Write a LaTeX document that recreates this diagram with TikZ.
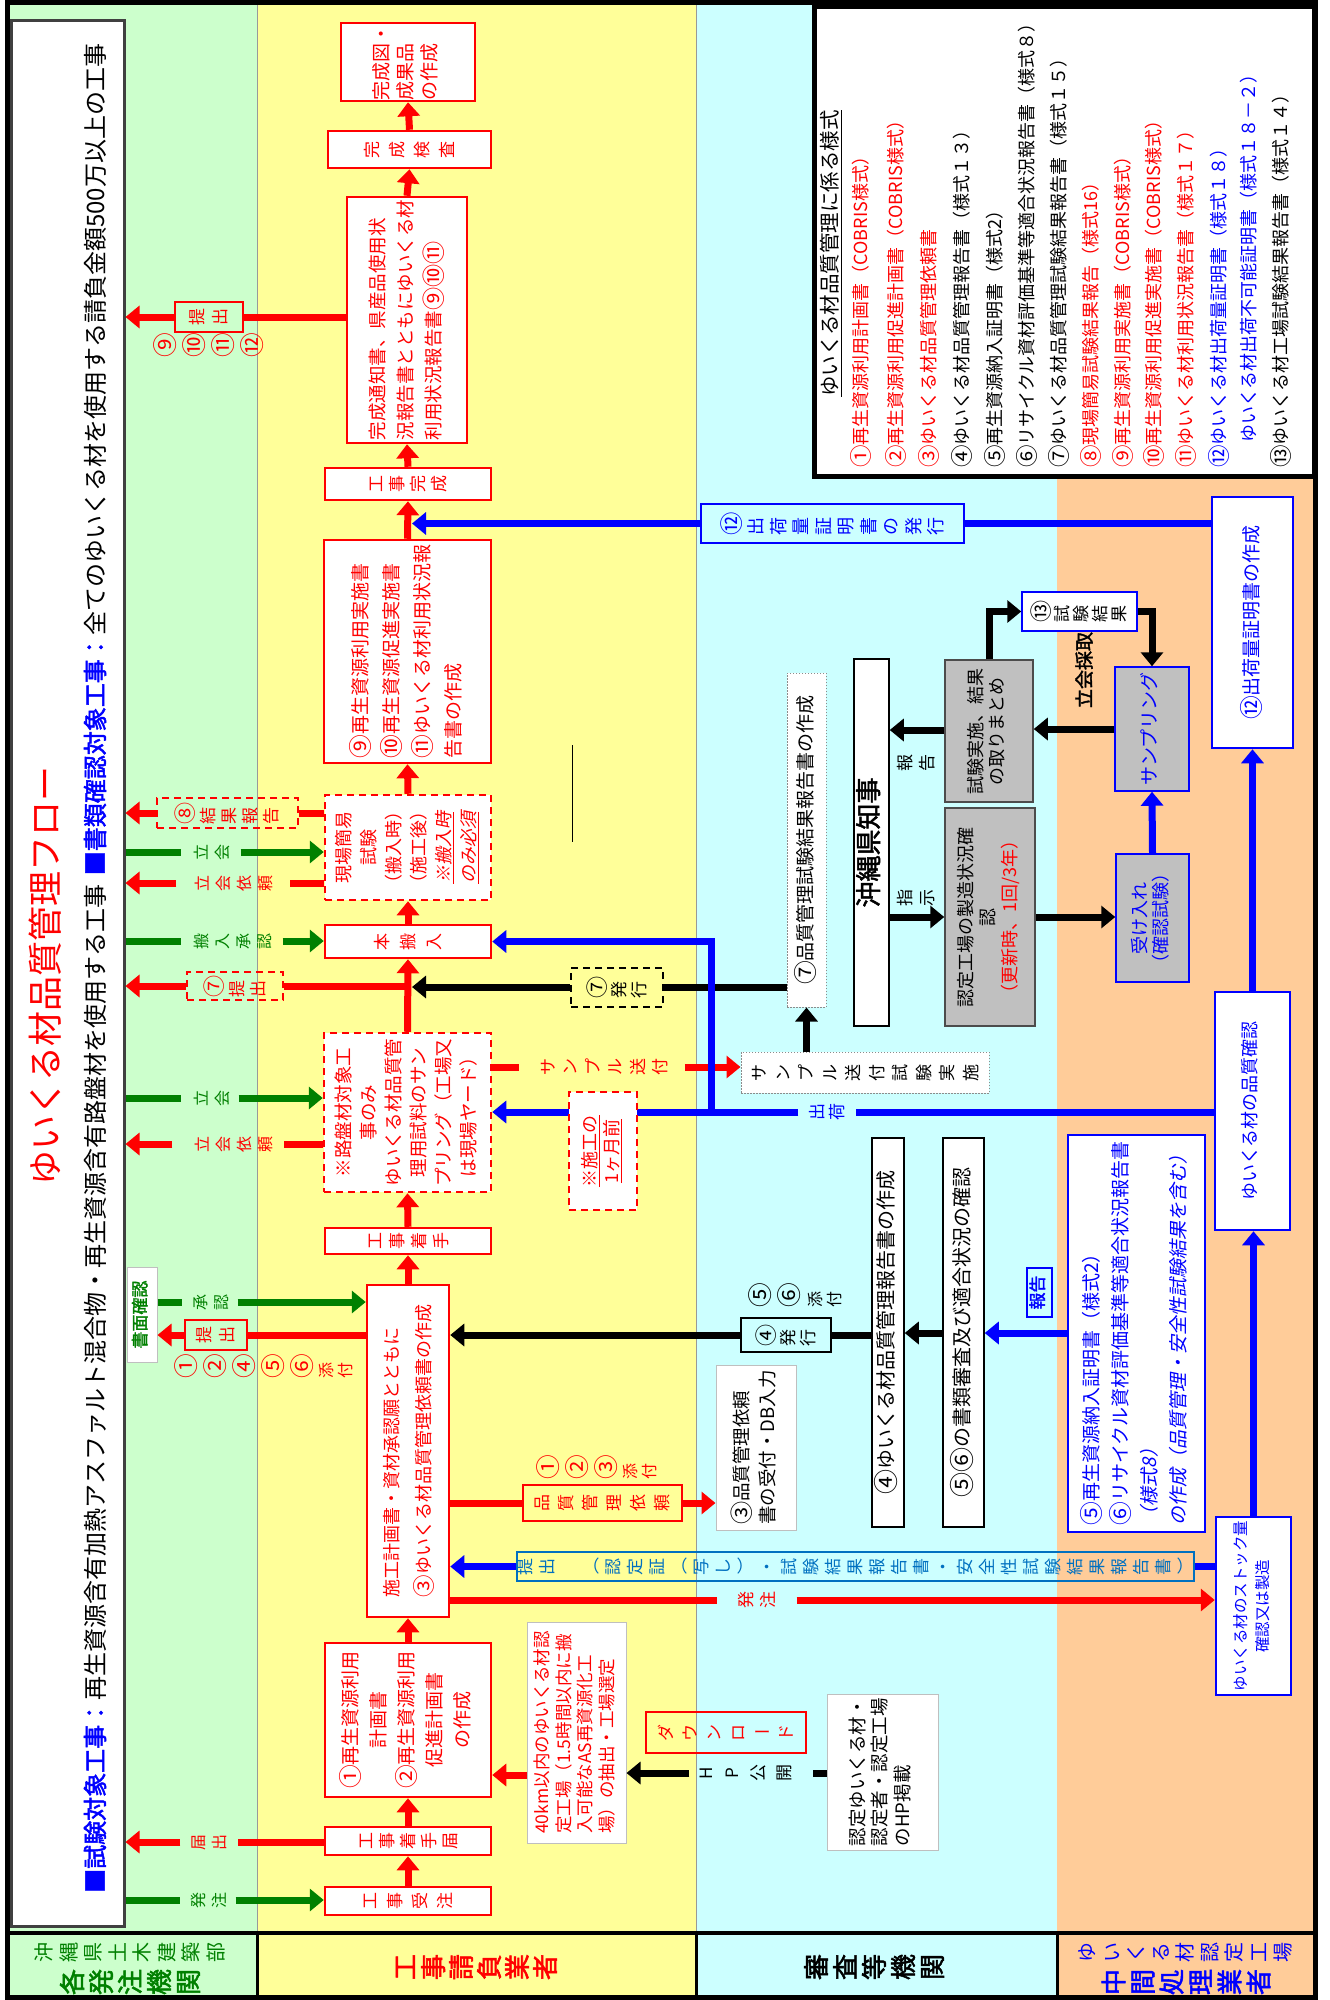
\documentclass[tikz,border=0pt]{standalone}
\usepackage{fontspec}
\setmainfont{Noto Sans CJK JP}[AutoFakeBold=2]
\newfontfamily\slt{Noto Sans CJK JP}[FakeSlant=0.2]
\usepackage{graphicx}
\usetikzlibrary{arrows.meta}
\definecolor{lgreen}{RGB}{204,255,204}
\definecolor{lyellow}{RGB}{255,255,153}
\definecolor{lcyan}{RGB}{204,255,255}
\definecolor{lorange}{RGB}{255,204,153}
\definecolor{dgreen}{RGB}{0,128,0}
\definecolor{tblue}{RGB}{0,112,192}
\definecolor{gbox}{RGB}{192,192,192}
\newcommand\FS[2]{\fontsize{#1}{#2}\selectfont}
\newcommand\RA[2][c]{\rotatebox{90}{\begin{tabular}{@{}#1@{}}#2\end{tabular}}}
\newcommand\CN[1]{\raisebox{-0.1em}{\scalebox{1.25}{#1}}}
\ExplSyntaxOn
\NewDocumentCommand\VT{O{0pt}m}
 {
  \tl_map_inline:nn {#2}
   {
    \tl_if_in:nnTF {ー（）()} {##1}
     { \makebox[1em]{\raisebox{0.12em}{##1}} }
     {
      \tl_if_in:nnTF {①②③④⑤⑥⑦⑧⑨⑩⑪⑫⑬} {##1}
       { \rotatebox{90}{\makebox[1.3em]{\rule[-0.15em]{0pt}{1.15em}\raisebox{-0.1em}{\scalebox{1.3}{##1}}}} }
       { \rotatebox{90}{\makebox[1em]{\rule[-0.12em]{0pt}{1em}##1}} }
     }
    \hspace{#1}
   }
  \unskip
 }
\ExplSyntaxOff
\tikzset{
 box/.style args={#1/#2/#3/#4}{at={({(#1+#3)/2},{(#2+#4)/2})}, minimum width={#3pt-#1pt}, minimum height={#4pt-#2pt}},
 bx/.style={draw, inner sep=0pt, fill=white},
 rb/.style={bx, draw=red, line width=2.5pt, text=red},
 rd/.style={rb, dash pattern=on 7pt off 5pt},
 bb/.style={bx, draw=blue, line width=2.5pt, text=blue},
 kb/.style={bx, draw=black, line width=1.5pt, text=black},
 gyb/.style={bx, draw=black!25, line width=1pt, text=black},
 dotb/.style={bx, draw=black!45, line width=1pt, dash pattern=on 1.5pt off 1.5pt},
 grb/.style={bx, fill=gbox, draw=black!70, line width=1.5pt},
 lab/.style={inner sep=0pt},
 ra/.style={draw=red, line width=7pt, -{Triangle[width=22pt,length=14pt]}},
 rl/.style={draw=red, line width=7pt},
 ga/.style={draw=dgreen, line width=7pt, -{Triangle[width=22pt,length=14pt]}},
 gl/.style={draw=dgreen, line width=7pt},
 ba/.style={draw=blue, line width=7pt, -{Triangle[width=22pt,length=14pt]}},
 bl/.style={draw=blue, line width=7pt},
 ka/.style={draw=black, line width=7pt, -{Triangle[width=22pt,length=14pt]}},
 kl/.style={draw=black, line width=7pt},
}
\begin{document}
\begin{tikzpicture}[x=1pt,y=-1pt]
\useasboundingbox (0,0) rectangle (1330,2000);
% lanes
\fill[lgreen] (8,5) rectangle (257,1997);
\fill[lyellow] (257,5) rectangle (696,1997);
\fill[lcyan] (696,5) rectangle (1057,1997);
\fill[lorange] (1057,5) rectangle (1315,1997);
\draw[black!40, line width=0.8pt] (257,5) -- (257,1933);
\draw[black!40, line width=0.8pt] (696,5) -- (696,1933);
\draw[line width=4pt] (8,1933) -- (1315,1933);
\foreach \xx in {257,696,1057} \draw[line width=3pt] (\xx,1933) -- (\xx,1997);
\draw[line width=5pt] (7.5,2.5) rectangle (1315.5,1997.5);

% title box
\node[draw=black!75, line width=3pt, fill=white, inner sep=0pt, box=11/20/124/1926] (tb) {};
\node[lab, rotate=90, anchor=west, text=red, font=\FS{35}{40}] (ttl) at (45,1186) {ゆいくる材品質管理フロー};
\node[lab, rotate=90, anchor=west, font=\FS{24}{28}] (sub) at (95,1893) {\textcolor{blue}{\bfseries ■試験対象工事：}再生資源含有加熱アスファルト混合物・再生資源含有路盤材を使用する工事\hspace{0.4em}\textcolor{blue}{\bfseries ■書類確認対象工事：}全てのゆいくる材を使用する請負金額500万以上の工事};

% legend
\node[draw=black, line width=5pt, fill=white, inner sep=0pt, box=814/6/1314/476] (lg) {};
\node[lab, rotate=90, anchor=west, font=\FS{20.5}{24}] (lg0) at (831,397) {\underline{ゆいくる材品質管理に係る様式}};
\begin{scope}[every node/.style={lab, rotate=90, anchor=west, font=\FS{18}{20}}]
\node[text=red] (lg1) at (861,468) {\CN{①}再生資源利用計画書（COBRIS様式）};
\node[text=red] (lg2) at (896,468) {\CN{②}再生資源利用促進計画書（COBRIS様式）};
\node[text=red] (lg3) at (929,468) {\CN{③}ゆいくる材品質管理依頼書};
\node (lg4) at (962,468) {\CN{④}ゆいくる材品質管理報告書（様式１３）};
\node (lg5) at (995,468) {\CN{⑤}再生資源納入証明書（様式2）};
\node (lg6) at (1027,468) {\CN{⑥}リサイクル資材評価基準等適合状況報告書（様式８）};
\node (lg7) at (1059,468) {\CN{⑦}ゆいくる材品質管理試験結果報告書（様式１５）};
\node[text=red] (lg8) at (1091,468) {\CN{⑧}現場簡易試験結果報告（様式16）};
\node[text=red] (lg9) at (1123,468) {\CN{⑨}再生資源利用実施書（COBRIS様式）};
\node[text=red] (lg10) at (1154,468) {\CN{⑩}再生資源利用促進実施書（COBRIS様式）};
\node[text=red] (lg11) at (1186,468) {\CN{⑪}ゆいくる材利用状況報告書（様式１７）};
\node[text=blue] (lg12) at (1219,468) {\CN{⑫}ゆいくる材出荷量証明書（様式１８）};
\node[text=blue] (lg13) at (1249,443) {ゆいくる材出荷不可能証明書（様式１８－２）};
\node (lg14) at (1281,468) {\CN{⑬}ゆいくる材工場試験結果報告書（様式１４）};
\end{scope}

% bottom headers
\node[lab, text=dgreen, font=\FS{20}{22}] (h1a) at (130,1952) {\VT[4.5pt]{沖縄県土木建築部}};
\node[lab, text=dgreen, font=\bfseries\FS{26}{28}] (h1b) at (130,1982) {\VT[3pt]{各発注機関}};
\node[lab, text=red, font=\bfseries\FS{26}{28}] (h2) at (475,1967) {\VT[2pt]{工事請負業者}};
\node[lab, font=\bfseries\FS{26}{28}] (h3) at (874,1967) {\VT[3pt]{審査等機関}};
\node[lab, text=blue, font=\FS{20}{22}] (h4a) at (1185,1952) {\VT[4.5pt]{ゆいくる材認定工場}};
\node[lab, text=blue, font=\bfseries\FS{26}{28}] (h4b) at (1186,1982) {\VT[3pt]{中間処理業者}};

% spine boxes
\node[rb, font=\FS{17}{20}, box=325/1887/491/1915] (n1) {\VT[8pt]{工事受注}};
\node[rb, font=\FS{17}{20}, box=325/1827/491/1855] (n2) {\VT[4pt]{工事着手届}};
\node[rb, font=\FS{19}{28}, box=325/1643/491/1797] (n3) {\RA{\CN{①}再生資源利用\\計画書\\\CN{②}再生資源利用\\促進計画書\\の作成}};
\node[rb, font=\FS{18}{32}, box=367/1285/449/1617] (n4) {\RA[l]{施工計画書・資材承認願とともに\\\CN{③}ゆいくる材品質管理依頼書の作成}};
\node[rb, font=\FS{17}{20}, box=325/1228/491/1254] (n5) {\VT[5pt]{工事着手}};
\node[rd, font=\FS{18.5}{25}, box=324/1033/491/1192] (n6) {\RA{※路盤材対象工\\事のみ\\ゆいくる材品質管\\理用試料のサン\\プリング（工場又\\は現場ヤード）}};
\node[rb, font=\FS{17}{20}, box=325/925/491/958] (n7) {\VT[9pt]{本搬入}};
\node[rd, font=\FS{18}{25}, box=325/795/491/900] (n8) {\RA{現場簡易\\試験\\（搬入時）\\（施工後）\\{\slt\underline{※搬入時}}\\{\slt\underline{のみ必須}}}};
\node[rb, font=\FS{19}{31}, box=324/540/491/763] (n9) {\RA[l]{\CN{⑨}再生資源利用実施書\\\CN{⑩}再生資源促進実施書\\\CN{⑪}ゆいくる材利用状況報\\告書の作成}};
\node[rb, font=\FS{17}{20}, box=325/468/491/500] (n10) {\VT[4pt]{工事完成}};
\node[rb, font=\FS{18.5}{28}, box=347/197/467/443] (n11) {\RA[l]{完成通知書、県産品使用状\\況報告書とともにゆいくる材\\利用状況報告書\CN{⑨}\CN{⑩}\CN{⑪}}};
\node[rb, font=\FS{17}{20}, box=328/131/491/168] (n12) {\VT[8pt]{完成検査}};
\node[rb, font=\FS{19}{24}, box=341/23/475/101] (n13) {\RA[l]{完成図・\\成果品\\の作成}};

% other boxes
\node[gyb, text=red, font=\FS{17.5}{21.5}, box=527/1622/626/1843] (km) {\RA[l]{40km以内のゆいくる材認\\定工場（1.5時間以内に搬\\入可能なAS再資源化工\\場）の抽出・工場選定}};
\node[rb, fill=none, line width=2pt, font=\FS{17}{20}, box=646/1712/806/1753] (dl) {\VT[7pt]{ダウンロード}};
\node[gyb, font=\FS{18.5}{22}, box=827/1694/938/1850] (hp) {\RA[l]{認定ゆいくる材・\\認定者・認定工場\\のHP掲載}};
\node[gyb, font=\FS{18.5}{26}, box=716/1365/796/1530] (r3) {\RA[l]{\CN{③}品質管理依頼\\書の受付・DB入力}};
\node[kb, font=\FS{20}{24}, box=872/1138/904/1527] (r4) {\RA{\CN{④}ゆいくる材品質管理報告書の作成}};
\node[kb, font=\FS{20}{24}, box=943/1138/984/1527] (r56) {\RA{\CN{⑤}\CN{⑥}の書類審査及び適合状況の確認}};
\node[dotb, font=\FS{17}{20}, box=741/1052/989/1093] (smp) {\VT[6.5pt]{サンプル送付試験実施}};
\node[dotb, font=\FS{19}{22}, box=787/673/826/1007] (r7) {\RA{\CN{⑦}品質管理試験結果報告書の作成}};
\node[kb, font=\bfseries\FS{26}{30}, box=854/659/889/1026] (gov) {\RA{沖縄県知事}};
\node[grb, font=\FS{18}{21}, box=945/660/1033/802] (test) {\RA{試験実施、結果\\の取りまとめ}};
\node[grb, font=\FS{18}{21.5}, box=945/808/1035/1026] (fac) {\RA{認定工場の製造状況確\\認\\\textcolor{red}{（更新時、1回/3年）}}};
\node[bb, text=black, line width=1.5pt, font=\FS{17}{20}, box=1022/592/1137/631] (r13) {\VT[2pt]{⑬試験結果}};
\node[grb, draw=blue, text=blue, font=\FS{19}{22}, box=1115/667/1189/791] (samp) {\RA{サンプリング}};
\node[grb, draw=blue, text=blue, font=\FS{18}{21}, box=1116/854/1189/982] (recv) {\RA{受け入れ\\（確認試験）}};
\node[bb, font=\FS{19}{22}, box=1212/497/1293/748] (shc) {\RA{\CN{⑫}出荷量証明書の作成}};
\node[bb, font=\FS{18}{22}, box=1215/992/1290/1230] (qc) {\RA{ゆいくる材の品質確認}};
\node[bb, font=\FS{19}{29}, box=1068/1135/1205/1532] (b56) {\RA[l]{\CN{⑤}再生資源納入証明書（様式2）\\\CN{⑥}リサイクル資材評価基準等適合状況報告書\\{\slt（様式8）}\\{\slt の作成（品質管理・安全性試験結果を含む）}}};
\node[bb, font=\FS{15.5}{22}, box=1216/1517/1291/1695] (stk) {\RA{ゆいくる材のストック量\\確認又は製造}};
\node[bx, draw=black!25, line width=1pt, text=dgreen, font=\bfseries\FS{17}{20}, box=127/1267/157/1362] (bconf) {\RA{書面確認}};

% label boxes
\node[rb, fill=none, line width=2pt, font=\FS{17}{20}, box=175/302/243/332] (p11) {\VT[6pt]{提出}};
\node[rb, fill=none, line width=2pt, font=\FS{17}{20}, box=185/1320/247/1350] (p4) {\VT[6pt]{提出}};
\node[rd, fill=none, line width=2pt, font=\FS{17}{20}, box=187/972/283/1000] (p7) {\VT[4pt]{⑦提出}};
\node[rd, fill=none, line width=2pt, font=\FS{17}{20}, box=157/798/298/828] (p8) {\VT[4pt]{⑧結果報告}};
\node[kb, fill=none, line width=2pt, dash pattern=on 7pt off 5pt, font=\FS{17}{20}, box=571/968/663/1007] (k7) {\VT[3pt]{⑦発行}};
\node[kb, fill=none, line width=2pt, font=\FS{17}{20}, box=741/1318/831/1352] (k4) {\VT[3pt]{④発行}};
\node[rb, fill=none, line width=2pt, font=\FS{17}{20}, box=523/1485/682/1521] (qreq) {\VT[7pt]{品質管理依頼}};
\node[bx, fill=none, draw=tblue, line width=2pt, text=tblue, font=\FS{17}{20}, box=521/1552/1189/1581] (bsub) {\VT[5pt]{提出　（認定証（写し）・試験結果報告書・安全性試験結果報告書）}};
\node[bb, fill=none, line width=2pt, font=\FS{18}{20}, box=701/504/964/543] (b12) {\VT[4.5pt]{⑫出荷量証明書の発行}};
\node[bx, fill=none, draw=blue, line width=2pt, text=blue, font=\bfseries\FS{17}{20}, box=1027/1268/1052/1317] (rep) {\RA{報告}};

% free labels
\begin{scope}[every node/.style={lab, font=\FS{16}{18}}]
\node[text=dgreen] (l1) at (209,1900) {\VT[5pt]{発注}};
\node[text=red] (l2) at (209,1842) {\VT[5pt]{届出}};
\node[text=dgreen] (l3) at (211,1302) {\VT[5pt]{承認}};
\node[text=dgreen] (l4) at (212,1098) {\VT[5pt]{立会}};
\node[text=red] (l5) at (234,1144) {\VT[5pt]{立会依頼}};
\node[text=dgreen] (l6) at (233,941) {\VT[5pt]{搬入承認}};
\node[text=red] (l7) at (234,883) {\VT[5pt]{立会依頼}};
\node[text=dgreen] (l8) at (212,852) {\VT[5pt]{立会}};
\node[text=red, font=\FS{17}{18}] (l9) at (757,1600) {\VT[5pt]{発注}};
\node[text=red, font=\FS{17}{18}] (l10) at (604,1067) {\VT[5.5pt]{サンプル送付}};
\node[text=blue, font=\FS{17}{18}] (l11) at (827,1112) {\VT[3pt]{出荷}};
\node[font=\FS{17}{18}] (l12) at (916,763) {\VT[5pt]{報告}};
\node[font=\FS{17}{18}] (l13) at (916,898) {\VT[5pt]{指示}};
\node[font=\FS{17}{18}] (l14) at (745,1773) {\VT[9pt]{HP公開}};
\node[anchor=west, text=red, font=\FS{19}{20}] (l15) at (174,1366) {\VT[6pt]{①②④⑤⑥}\hspace{5pt}{\FS{16}{18}\VT[3pt]{添付}}};
\node[anchor=west, text=red, font=\FS{19}{20}] (l16) at (153,345) {\VT[6pt]{⑨⑩⑪⑫}};
\node[anchor=west, text=red, font=\FS{19}{20}] (l17) at (536,1467) {\VT[6pt]{①②③}\hspace{5pt}{\FS{16}{18}\VT[3pt]{添付}}};
\node[anchor=west, font=\FS{19}{20}] (l18) at (748,1295) {\VT[6pt]{⑤⑥}\hspace{7pt}{\FS{16}{18}\VT[3pt]{添付}}};
\node[rotate=90, font=\bfseries\FS{19}{22}] (l19) at (1084,670) {立会採取};
\end{scope}

% spine arrows
\foreach \a/\b in {n1/n2,n2/n3,n3/n4,n4/n5,n5/n6,n6/n7,n7/n8,n8/n9,n9/n10,n10/n11,n11/n12,n12/n13}
  \draw[ra] (\a.north) -- (\b.south);

% left side
\draw[gl] (tb.east |- 0,1900) -- ([xshift=-10pt]l1.west |- 0,1900);
\draw[ga] ([xshift=8pt]l1.east |- 0,1900) -- (n1.west |- 0,1900);
\draw[rl] (n2.west |- 0,1842) -- ([xshift=10pt]l2.east |- 0,1842);
\draw[ra] ([xshift=-10pt]l2.west |- 0,1842) -- (tb.east |- 0,1842);
\draw[gl] (bconf.east |- 0,1302) -- ([xshift=-10pt]l3.west |- 0,1302);
\draw[ga] ([xshift=8pt]l3.east |- 0,1302) -- (n4.west |- 0,1302);
\draw[rl] (n4.west |- 0,1335) -- (p4.east);
\draw[ra] (p4.west) -- (bconf.east |- p4.west);
\draw[gl] (tb.east |- 0,1098) -- ([xshift=-12pt]l4.west |- 0,1098);
\draw[ga] ([xshift=8pt]l4.east |- 0,1098) -- (n6.west |- 0,1098);
\draw[rl] (n6.west |- 0,1144) -- ([xshift=10pt]l5.east |- 0,1144);
\draw[ra] ([xshift=-22pt]l5.west |- 0,1144) -- (tb.east |- 0,1144);
\draw[gl] (tb.east |- 0,941) -- ([xshift=-12pt]l6.west |- 0,941);
\draw[ga] ([xshift=10pt]l6.east |- 0,941) -- (n7.west |- 0,941);
\draw[rl] (n7.south |- p7.east) -- (p7.east);
\draw[ra] (p7.west) -- (tb.east |- p7.west);
\draw[rl] (n8.west |- 0,883) -- ([xshift=16pt]l7.east |- 0,883);
\draw[ra] ([xshift=-18pt]l7.west |- 0,883) -- (tb.east |- 0,883);
\draw[gl] (tb.east |- 0,852) -- ([xshift=-12pt]l8.west |- 0,852);
\draw[ga] ([xshift=10pt]l8.east |- 0,852) -- (n8.west |- 0,852);
\draw[rl] (n8.west |- p8.east) -- (p8.east);
\draw[ra] (p8.west) -- (tb.east |- p8.west);
\draw[rl] (n11.west |- p11.east) -- (p11.east);
\draw[ra] (p11.west) -- (tb.east |- p11.west);

% right side of spine
\draw[ra] (km.west |- 0,1775) -- (n3.east |- 0,1775);
\draw[rl] (n4.east |- qreq.west) -- (qreq.west);
\draw[ra] (qreq.east) -- (r3.west |- qreq.east);
\draw[bl] (stk.west |- bsub.east) -- (bsub.east);
\draw[ba] (bsub.west) -- (n4.east |- bsub.west);
\draw[rl] (n4.east |- 0,1600) -- ([xshift=-20pt]l9.west |- 0,1600);
\draw[ra] ([xshift=20pt]l9.east |- 0,1600) -- (stk.west |- 0,1600);
\draw[kl] (r4.west |- k4.east) -- (k4.east);
\draw[ka] (k4.west) -- (n4.east |- k4.west);
\draw[rl] (n6.east |- 0,1067) -- ([xshift=-20pt]l10.west |- 0,1067);
\draw[ra] ([xshift=16pt]l10.east |- 0,1067) -- (smp.west |- 0,1067);
\draw[kl] (r7.west |- 0,987) -- (k7.east |- 0,987);
\draw[ka] (k7.west |- 0,987) -- ([xshift=4pt]n7.south |- 0,987);
\coordinate (jn) at (711,1112);
\draw[bl] (qc.west |- 0,1112) -- ([xshift=10pt]l11.east |- 0,1112);
\draw[ba] ([xshift=-10pt]l11.west |- 0,1112) -- (n6.east |- 0,1112);
\draw[ba] (jn) -- (jn |- n7.east) -- (n7.east);
\draw[bl] (shc.west |- b12.east) -- (b12.east);
\draw[ba] (b12.west) -- ([xshift=4pt]n10.south |- b12.west);

% cyan / orange lanes
\draw[ka] (smp.north -| r7.south) -- (r7.south);
\draw[ka] (test.west |- 0,730) -- (gov.east |- 0,730);
\draw[ka] (gov.east |- 0,917) -- (fac.west |- 0,917);
\draw[ka] (test.north) |- (r13.west);
\draw[ka] (r13.east) -| (samp.north);
\draw[ka] (samp.west |- 0,729) -- (test.east |- 0,729);
\draw[ka] (fac.east |- 0,917) -- (recv.west |- 0,917);
\draw[ba] (recv.north) -- (samp.south);
\draw[ba] (qc.north) -- (shc.south);
\draw[ba] (stk.north) -- (qc.south -| stk.north);
\draw[ka] (r56.west |- 0,1333) -- (r4.east |- 0,1333);
\draw[ba] (b56.west |- 0,1333) -- (r56.east |- 0,1333);
\draw[kl] (hp.west |- 0,1773) -- ([xshift=20pt]l14.east |- 0,1773);
\draw[ka] ([xshift=-8pt]l14.west |- 0,1773) -- (km.east |- 0,1773);

% overlay box on the shipping line
\node[rd, line width=2pt, font=\FS{18}{21}, box=569/1092/637/1210] (warn) {\RA{\underline{※施工の}\\\underline{1ヶ月前}}};
\draw[line width=0.8pt] (572,745) -- (572,842);
\end{tikzpicture}
\end{document}
